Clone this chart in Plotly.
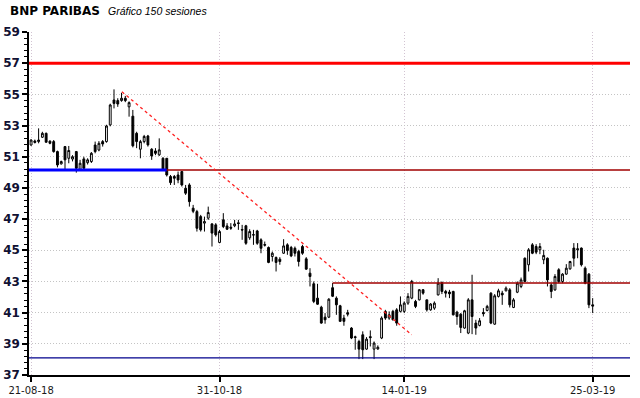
import plotly.graph_objects as go

# ---------------- data ----------------
opens = [51.75, 52.01, 51.97, 52.25, 52.5, 52.0, 51.97, 51.33, 50.54, 51.65,
         50.9, 50.85, 51.33, 50.19, 50.86, 50.62, 50.69, 51.75, 51.43, 51.97,
         51.97, 53.04, 54.64, 54.6, 54.6, 54.75, 54.2, 53.6, 52.5, 51.48,
         51.97, 52.33, 51.48, 51.37, 51.12, 50.9, 50.9, 49.73, 49.73, 49.83,
         50.05, 48.98, 49.19, 47.7, 47.48, 47.16, 46.74, 47.06, 46.69, 46.63,
         45.5, 46.95, 46.56, 46.48, 46.57, 46.76, 46.33, 46.57, 45.8, 46.0,
         46.24, 45.67, 45.37, 45.18, 44.6, 44.54, 44.43, 44.81, 45.35, 45.18,
         45.13, 44.92, 45.24, 44.45, 43.53, 42.85, 41.93, 41.35, 40.71, 40.71,
         42.6, 41.93, 41.44, 40.65, 41.0, 40.01, 39.45, 39.15, 39.58, 38.66,
         39.46, 38.66, 38.67, 39.37, 41.08, 40.65, 41.08, 41.18, 41.08, 41.08,
         41.61, 41.93, 41.72, 41.82, 42.47, 41.82, 41.18, 41.29, 42.14, 42.93,
         42.36, 42.32, 42.36, 41.03, 40.9, 40.01, 39.69, 41.82, 40.33, 40.18,
         41.01, 41.14, 42.25, 40.26, 42.04, 42.25, 42.4, 42.46, 41.33, 42.31,
         42.68, 44.49, 44.07, 45.35, 45.24, 45.03, 44.39, 44.49, 42.78, 42.46,
         43.75, 43.0, 43.47, 43.81, 45.14, 45.03, 45.14, 43.85, 43.47, 41.5]
highs = [52.12, 52.1, 52.82, 52.6, 52.55, 52.05, 52.07, 51.39, 50.75, 51.69,
         51.69, 51.1, 51.37, 50.8, 51.0, 50.9, 51.3, 51.97, 52.0, 52.07,
         53.05, 54.4, 55.32, 54.75, 55.1, 54.9, 54.55, 54.0, 52.6, 52.08,
         52.4, 52.4, 51.55, 51.55, 52.18, 50.97, 50.9, 49.83, 49.83, 50.05,
         50.05, 49.19, 49.3, 47.91, 47.59, 47.27, 47.16, 47.8, 46.74, 46.74,
         46.31, 47.38, 46.74, 46.74, 46.95, 46.95, 46.63, 46.63, 46.35, 46.31,
         46.31, 45.77, 45.56, 45.24, 44.92, 44.6, 44.56, 45.71, 45.45, 45.28,
         45.24, 45.03, 45.35, 44.56, 43.85, 43.0, 42.85, 41.44, 40.97, 41.93,
         42.9, 42.04, 41.5, 40.86, 41.18, 40.07, 39.52, 39.26, 39.8, 39.43,
         39.86, 39.15, 38.9, 40.76, 41.18, 41.08, 41.18, 41.29, 42.04, 41.72,
         42.25, 43.1, 41.82, 42.51, 42.51, 41.82, 41.61, 41.72, 43.21, 43.0,
         42.46, 42.46, 42.4, 41.12, 40.97, 41.18, 41.93, 43.43, 40.54, 40.65,
         41.29, 41.5, 42.31, 42.19, 42.53, 42.4, 42.68, 42.57, 41.93, 43.0,
         43.25, 44.54, 45.14, 45.46, 45.39, 45.46, 45.03, 44.54, 42.89, 43.47,
         43.85, 43.53, 44.11, 44.32, 45.46, 45.46, 45.18, 43.96, 43.54, 41.93]
lows = [51.71, 51.85, 51.86, 52.2, 51.9, 51.8, 51.26, 50.32, 50.5, 50.15,
        50.58, 50.7, 49.98, 50.1, 50.15, 50.5, 50.6, 51.22, 51.35, 51.65,
        51.9, 52.95, 54.1, 54.2, 54.53, 54.5, 53.57, 51.6, 51.55, 50.9,
        51.86, 51.65, 50.8, 51.1, 51.05, 50.11, 49.73, 49.19, 49.19, 49.3,
        49.09, 48.55, 47.8, 47.38, 46.2, 46.2, 46.2, 46.95, 45.24, 45.88,
        45.45, 46.42, 46.31, 46.31, 46.48, 46.31, 45.67, 45.35, 45.67, 45.35,
        45.35, 44.81, 45.24, 44.17, 44.28, 43.64, 44.07, 44.77, 44.71, 44.56,
        44.6, 43.96, 44.71, 43.75, 42.68, 41.61, 41.5, 40.29, 40.29, 40.65,
        42.0, 40.86, 40.44, 40.16, 40.76, 39.3, 38.62, 38.02, 38.02, 38.62,
        38.83, 38.02, 38.62, 39.3, 40.54, 40.54, 40.5, 40.16, 41.01, 40.97,
        41.5, 41.86, 41.29, 41.78, 42.15, 41.07, 41.12, 41.18, 42.1, 42.19,
        41.97, 41.93, 40.82, 40.22, 39.69, 39.97, 39.62, 39.62, 39.58, 40.12,
        40.75, 41.08, 40.26, 40.22, 41.97, 41.5, 42.36, 41.33, 41.29, 42.25,
        42.57, 42.96, 43.64, 44.75, 44.75, 44.75, 44.11, 42.68, 41.93, 42.4,
        42.89, 42.89, 43.43, 43.75, 43.96, 44.49, 43.96, 42.82, 41.29, 40.97]
closes = [52.07, 51.92, 52.07, 52.5, 51.93, 51.86, 51.33, 50.47, 50.69, 50.8,
          51.4, 51.0, 50.26, 50.58, 50.26, 50.8, 51.22, 51.33, 51.86, 51.82,
          52.97, 54.32, 54.42, 54.38, 54.75, 54.6, 54.47, 51.7, 51.97, 51.97,
          52.3, 51.76, 51.05, 51.22, 51.44, 50.15, 49.83, 49.34, 49.62, 49.51,
          49.19, 48.66, 48.12, 47.5, 46.41, 46.31, 46.84, 47.42, 46.1, 45.99,
          46.2, 46.52, 46.35, 46.42, 46.69, 46.72, 46.3, 45.45, 46.2, 45.98,
          45.45, 45.13, 45.33, 44.22, 44.81, 44.22, 44.28, 45.28, 44.98, 44.64,
          44.81, 44.28, 44.81, 43.79, 43.32, 41.72, 41.54, 40.33, 40.54, 41.86,
          42.05, 41.5, 40.44, 40.44, 40.9, 39.37, 39.41, 38.66, 38.62, 39.3,
          39.4, 39.05, 38.78, 40.65, 40.65, 40.86, 40.54, 40.33, 41.5, 41.61,
          42.04, 43.0, 41.4, 42.47, 42.25, 41.18, 41.55, 41.61, 42.89, 42.36,
          42.25, 42.21, 40.86, 40.75, 40.05, 41.12, 41.82, 40.75, 40.01, 40.48,
          40.93, 41.4, 40.33, 42.08, 42.4, 42.14, 42.57, 41.5, 41.82, 42.89,
          43.1, 43.0, 45.03, 44.81, 44.88, 45.24, 44.67, 43.1, 42.36, 43.32,
          43.0, 43.47, 43.85, 44.28, 44.49, 45.09, 44.07, 42.89, 41.5, 41.42]
sessions = list(range(len(closes)))

tick_sessions = [0, 50, 99, 149]
tick_labels = ["21-08-18", "31-10-18", "14-01-19", "25-03-19"]

# horizontal support / resistance levels
level_values = [57.0, 50.15, 50.15, 42.9, 38.1]
level_start = [-0.6, -0.6, 36.0, 80.0, -0.6]
level_end = [159.0, 36.0, 159.0, 159.0, 159.0]
level_colors = ["#ff0000", "#0000ff", "#a00000", "#a00000", "#00008c"]
level_widths = [3, 3, 1.3, 1.3, 1.3]

# downward trend line
trend_sessions = [24.1, 101.0]
trend_values = [55.17, 39.58]

title_text = "BNP PARIBAS"
subtitle_text = "Gráfico 150 sesiones"

# ---------------- figure ----------------
fig = go.Figure()

for v, s, e, c, w in zip(level_values, level_start, level_end, level_colors, level_widths):
    fig.add_trace(go.Scatter(x=[s, e], y=[v, v], mode="lines",
                             line=dict(color=c, width=w), hoverinfo="skip",
                             showlegend=False))

fig.add_trace(go.Scatter(x=trend_sessions, y=trend_values, mode="lines",
                         line=dict(color="#ff2020", width=1.3, dash="dot"),
                         hoverinfo="skip", showlegend=False))

fig.add_trace(go.Candlestick(
    x=sessions, open=opens, high=highs, low=lows, close=closes,
    increasing=dict(line=dict(color="#000000", width=1), fillcolor="#ffffff"),
    decreasing=dict(line=dict(color="#000000", width=1), fillcolor="#000000"),
    whiskerwidth=0, showlegend=False,
))

W, H = 640, 398
L, R, T, B = 29, 10, 32, 23
pw = W - L - R
ph = H - T - B

fig.update_layout(
    width=W, height=H, autosize=False,
    margin=dict(l=L, r=R, t=T, b=B, pad=0),
    paper_bgcolor="white", plot_bgcolor="white",
    showlegend=False,
    xaxis=dict(
        range=[-0.55, 158.9], rangeslider=dict(visible=False),
        tickmode="array", tickvals=tick_sessions, ticktext=tick_labels,
        showgrid=True, gridcolor="#d2c4d2", griddash="1px,2px", gridwidth=1,
        showline=True, linecolor="#000000", linewidth=1.5,
        ticks="outside", ticklen=5, tickwidth=1.5, tickcolor="#000000",
        tickfont=dict(family="DejaVu Sans", size=10, color="#1a1a1a"),
        zeroline=False, fixedrange=True, automargin=False,
    ),
    yaxis=dict(
        range=[37, 59], tickmode="linear", tick0=37, dtick=2,
        showgrid=True, gridcolor="#c4c4c4", griddash="1px,2px", gridwidth=1,
        showline=True, linecolor="#000000", linewidth=1.5,
        ticks="outside", ticklen=5, tickwidth=1.5, tickcolor="#000000",
        tickfont=dict(family="DejaVu Sans", size=12, color="#111133", weight="bold"),
        minor=dict(dtick=0.4, tick0=37, ticks="outside", ticklen=3,
                   tickwidth=1, tickcolor="#000000", showgrid=False),
        zeroline=False, fixedrange=True, automargin=False,
    ),
    annotations=[
        dict(text=title_text, xref="paper", yref="paper",
             x=(8 - L) / pw, y=1 + (T - 11) / ph, xanchor="left", yanchor="middle",
             showarrow=False,
             font=dict(family="DejaVu Sans", size=12, color="#000000", weight="bold")),
        dict(text="<i>" + subtitle_text + "</i>", xref="paper", yref="paper",
             x=(106 - L) / pw, y=1 + (T - 11) / ph, xanchor="left", yanchor="middle",
             showarrow=False,
             font=dict(family="Liberation Sans", size=10.5, color="#000000")),
    ],
)

fig.write_html(
    "out.html",
    config={"responsive": False, "displayModeBar": False},
    post_script=("document.body.style.margin='0';"
                 "var gd=document.getElementById('{plot_id}');"
                 "Plotly.relayout(gd,{width:640,height:398});"),
)
